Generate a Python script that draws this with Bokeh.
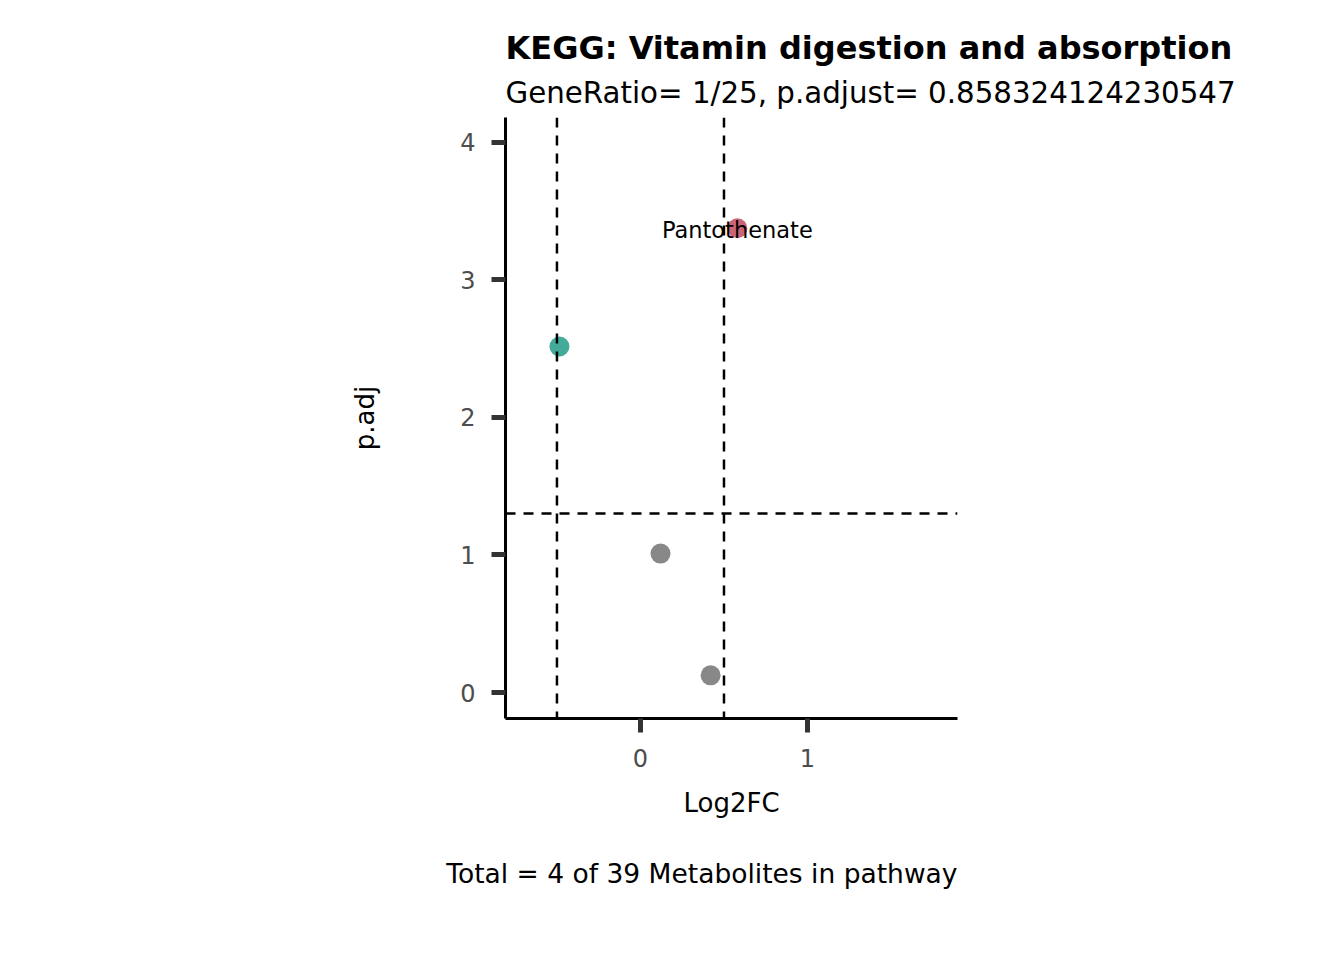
from bokeh.plotting import figure
from bokeh.models import Span, Title, Range1d, FixedTicker, ColumnDataSource
from bokeh.embed import file_html
from bokeh.resources import INLINE
from bokeh.core.properties import value

# ---- data ----
log2fc = [0.58, -0.485, 0.12, 0.42]
padj = [3.375, 2.515, 1.01, 0.125]
status = ["Up", "Down", "NS", "NS"]
labels = ["Pantothenate", "", "", ""]
fc_cut = [-0.5, 0.5]
p_cut = 1.30103
x_ticks = [0, 1]
y_ticks = [0, 1, 2, 3, 4]
title_txt = "KEGG: Vitamin digestion and absorption"
subtitle_txt = "GeneRatio= 1/25, p.adjust= 0.858324124230547"
caption_txt = "Total = 4 of 39 Metabolites in pathway"

palette = {"Up": "#CC6677", "Down": "#44AA99", "NS": "#888888"}
colors = [palette[s] for s in status]

FONT = "DejaVu Sans"

src = ColumnDataSource(dict(x=log2fc, y=padj, c=colors, lab=labels))

p = figure(width=1344, height=960,
           x_range=Range1d(-0.808, 1.898), y_range=Range1d(-0.189, 4.18),
           output_backend="svg", toolbar_location=None,
           min_border_left=505, min_border_right=387,
           min_border_top=117, min_border_bottom=242,
           background_fill_color="white", border_fill_color="white")
p.outline_line_color = None
p.xgrid.visible = False
p.ygrid.visible = False

for v in fc_cut:
    p.add_layout(Span(location=v, dimension="height", line_color="black",
                      line_width=2.5, line_dash="10 8"))
p.add_layout(Span(location=p_cut, dimension="width", line_color="black",
                  line_width=2.5, line_dash="10 8"))

p.scatter("x", "y", source=src, size=20, fill_color="c", line_color=None)
p.text("x", "y", text="lab", source=src, text_align="center",
       text_baseline="middle", text_font=value(FONT), text_font_size="22.5px",
       text_color="black", y_offset=2)

for ax, ticks in ((p.xaxis, x_ticks), (p.yaxis, y_ticks)):
    ax.ticker = FixedTicker(ticks=ticks)
    ax.axis_line_color = "black"
    ax.axis_line_width = 3
    ax.major_tick_line_color = "#333333"
    ax.major_tick_line_width = 5
    ax.major_tick_out = 14
    ax.major_tick_in = 0
    ax.minor_tick_line_color = None
    ax.major_label_text_font = FONT
    ax.major_label_text_font_size = "24px"
    ax.major_label_text_color = "#4D4D4D"
    ax.axis_label_text_font = FONT
    ax.axis_label_text_font_size = "26px"
    ax.axis_label_text_font_style = "normal"
    ax.axis_label_text_color = "black"

p.xaxis.axis_label = "Log2FC"
p.yaxis.axis_label = "p.adj"
p.xaxis.major_label_standoff = 16
p.yaxis.major_label_standoff = 16
p.xaxis.axis_label_standoff = 18
p.yaxis.axis_label_standoff = 77

p.add_layout(Title(text=subtitle_txt, align="left", text_font=FONT,
                   text_font_size="29.3px", text_font_style="normal",
                   text_color="black", standoff=15), "above")
p.add_layout(Title(text=title_txt, align="left", text_font=FONT,
                   text_font_size="32px", text_font_style="bold",
                   text_color="black", standoff=0, text_line_height=0.75),
             "above")
p.add_layout(Title(text=caption_txt, align="right", text_font=FONT,
                   text_font_size="26.5px", text_font_style="normal",
                   text_color="black", standoff=70), "below")

open("out.html", "w").write(file_html(p, INLINE))
